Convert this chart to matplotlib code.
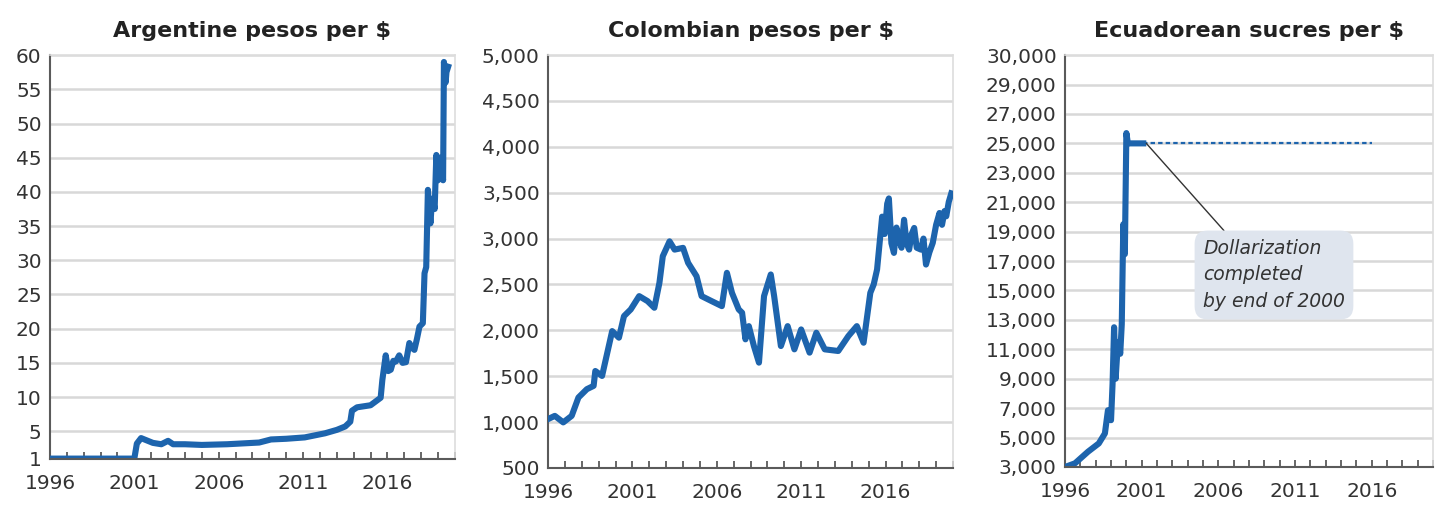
import matplotlib
matplotlib.use("Agg")
import matplotlib.pyplot as plt
from matplotlib.ticker import MultipleLocator, FuncFormatter

# Argentine pesos per $
arg_years = [1996.0, 2001.0, 2001.15, 2001.4, 2001.7, 2002.1, 2002.6, 2003.0, 2003.3,
             2004.0, 2005.0, 2006.5, 2008.4, 2009.1, 2010.0, 2011.1, 2012.3, 2013.0,
             2013.5, 2013.8, 2013.9, 2014.2, 2015.0, 2015.6, 2015.7, 2015.9, 2016.05,
             2016.2, 2016.35, 2016.5, 2016.7, 2016.9, 2017.1, 2017.3, 2017.45, 2017.6,
             2017.75, 2017.9, 2018.1, 2018.2, 2018.3, 2018.4, 2018.5, 2018.55, 2018.65,
             2018.7, 2018.8, 2018.9, 2018.95, 2019.0, 2019.1, 2019.15, 2019.25, 2019.3,
             2019.35, 2019.45, 2019.5, 2019.6]
arg_values = [1, 1, 3.2, 4.0, 3.7, 3.3, 3.1, 3.6, 3.1,
              3.1, 3.0, 3.1, 3.35, 3.8, 3.9, 4.1, 4.7, 5.2,
              5.7, 6.4, 8.0, 8.5, 8.8, 9.9, 12.5, 16.1, 13.8,
              14.0, 15.3, 15.2, 16.1, 15.0, 15.1, 17.9, 17.2, 16.9,
              18.5, 20.3, 20.8, 28.1, 29.0, 40.3, 37.0, 35.4, 39.0,
              38.8, 37.5, 45.4, 42.0, 41.7, 45.0, 44.0, 43.0, 41.7,
              59.0, 56.0, 57.5, 58.3]

# Colombian pesos per $
col_years = [1996.0, 1996.4, 1996.9, 1997.4, 1997.8, 1998.3, 1998.7, 1998.8, 1999.2,
             1999.6, 1999.8, 2000.2, 2000.5, 2000.9, 2001.4, 2001.9, 2002.3, 2002.6,
             2002.8, 2003.2, 2003.5, 2004.0, 2004.3, 2004.8, 2005.1, 2005.7, 2006.3,
             2006.6, 2006.9, 2007.3, 2007.5, 2007.7, 2007.9, 2008.2, 2008.5, 2008.8,
             2009.2, 2009.4, 2009.8, 2010.2, 2010.6, 2011.0, 2011.5, 2011.9, 2012.4,
             2013.2, 2013.8, 2014.3, 2014.7, 2015.1, 2015.3, 2015.5, 2015.8, 2015.95,
             2016.1, 2016.2, 2016.35, 2016.5, 2016.65, 2016.8, 2016.95, 2017.1, 2017.25,
             2017.4, 2017.55, 2017.7, 2017.85, 2018.1, 2018.25, 2018.4, 2018.6, 2018.8,
             2019.0, 2019.2, 2019.35, 2019.5, 2019.6, 2019.75, 2019.9]
col_values = [1033, 1068, 997, 1068, 1268, 1359, 1395, 1557, 1503,
              1829, 1992, 1920, 2155, 2228, 2373, 2318, 2246, 2518,
              2808, 2970, 2880, 2899, 2736, 2590, 2373, 2318, 2264,
              2627, 2409, 2228, 2192, 1902, 2046, 1829, 1648, 2373,
              2609, 2373, 1829, 2046, 1793, 2010, 1757, 1974, 1793,
              1775, 1938, 2046, 1865, 2409, 2500, 2663, 3239, 3050,
              3380, 3438, 2950, 2844, 3120, 3000, 2900, 3205, 2950,
              2880, 3050, 3116, 2900, 2880, 3000, 2717, 2850, 2953,
              3150, 3279, 3150, 3300, 3243, 3400, 3493]

# Ecuadorean sucres per $
ecu_years = [1996.0, 1996.65, 1997.5, 1998.2, 1998.6, 1998.8, 1999.0, 1999.1, 1999.2,
             1999.3, 1999.45, 1999.6, 1999.7, 1999.8, 1999.9, 2000.0, 2000.1, 2001.1]
ecu_values = [3000, 3250, 4040, 4600, 5280, 6860, 6180, 8650, 12500,
              9000, 11500, 10700, 12700, 19500, 17470, 25700, 25000, 25000]
dollar_years = [2001.1, 2016.0]
dollar_values = [25000, 25000]

titles = ["Argentine pesos per \\$", "Colombian pesos per \\$", "Ecuadorean sucres per \\$"]
arg_ticks = [1, 5, 10, 15, 20, 25, 30, 35, 40, 45, 50, 55, 60]
col_ticks = list(range(500, 5001, 500))
ecu_ticks = list(range(3000, 29001, 2000)) + [31000]
ecu_labels = ["{:,}".format(v) for v in range(3000, 29001, 2000)] + ["30,000"]
year_ticks = [1996, 2001, 2006, 2011, 2016]

blue = "#1d64ad"
grid_col = "#d8d8d8"
dark = "#5a5a5a"

fig = plt.figure(figsize=(14.4, 5.24), dpi=100)
ax1 = fig.add_axes([0.0347, 0.1248, 0.2812, 0.770])
ax2 = fig.add_axes([0.3806, 0.1069, 0.2812, 0.788])
ax3 = fig.add_axes([0.7396, 0.1088, 0.2556, 0.786])

ax1.plot(arg_years, arg_values, color=blue, lw=4.4, solid_joinstyle="round", zorder=3)
ax2.plot(col_years, col_values, color=blue, lw=4.4, solid_joinstyle="round", zorder=3)
ax3.plot(ecu_years, ecu_values, color=blue, lw=4.4, solid_joinstyle="round", zorder=3)
ax3.plot(dollar_years, dollar_values, color=blue, lw=1.6, ls=(0, (2, 1.4)), zorder=3)

ax1.set_ylim(1, 60)
ax1.set_yticks(arg_ticks)
ax2.set_ylim(500, 5000)
ax2.set_yticks(col_ticks)
ax2.yaxis.set_major_formatter(FuncFormatter(lambda v, p: "{:,.0f}".format(v)))
ax3.set_ylim(3000, 31000)
ax3.set_yticks(ecu_ticks)
ax3.set_yticklabels(ecu_labels)

for ax, title in zip([ax1, ax2, ax3], titles):
    ax.set_xlim(1996, 2020)
    ax.set_xticks(year_ticks)
    ax.xaxis.set_minor_locator(MultipleLocator(1))
    ax.tick_params(axis="x", which="both", direction="in", length=5, width=1.3,
                   color=dark, pad=11, labelsize=14.5, labelcolor="#333333")
    ax.tick_params(axis="y", length=0, pad=6, labelsize=14.5, labelcolor="#333333")
    ax.grid(axis="y", color=grid_col, lw=1.8, zorder=0)
    for side in ["top", "right"]:
        ax.spines[side].set_color("#dddddd")
        ax.spines[side].set_linewidth(1.2)
    for side in ["left", "bottom"]:
        ax.spines[side].set_color(dark)
        ax.spines[side].set_linewidth(1.5)
    ax.spines["bottom"].set_zorder(4)
    ax.set_title(title, fontsize=16, fontweight="bold", color="#222222", pad=13)

ax3.annotate("Dollarization\ncompleted\nby end of 2000",
             xy=(2001.3, 25000), xytext=(2005.0, 18500),
             ha="left", va="top", fontsize=13.5, style="italic", color="#333333",
             linespacing=1.5,
             bbox=dict(boxstyle="round,pad=0.45,rounding_size=0.7", fc="#dfe5ee", ec="none"),
             arrowprops=dict(arrowstyle="-", color="#333333", lw=1.0,
                             relpos=(0.2, 1.0), shrinkA=0, shrinkB=0),
             zorder=5)

fig.savefig("out.png", dpi=100)
